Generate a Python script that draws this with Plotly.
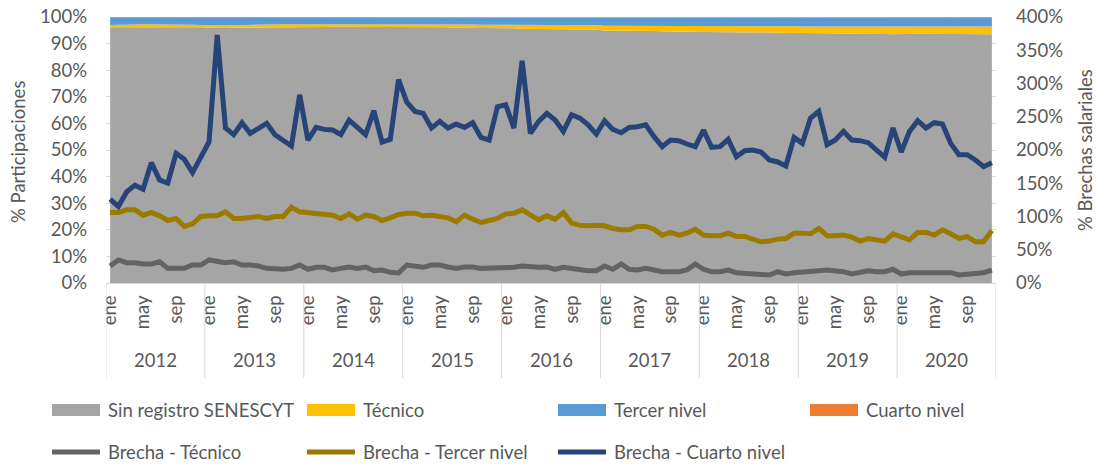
import plotly.graph_objects as go

# ---- Datos -------------------------------------------------------------
meses = ["ene", "feb", "mar", "abr", "may", "jun", "jul", "ago", "sep", "oct", "nov", "dic"]
anios = [2012, 2013, 2014, 2015, 2016, 2017, 2018, 2019, 2020]

# Participaciones (%), mensuales 2012-2020
sin_registro = [
    96.1, 96.1, 96.1, 96.2, 96.3, 96.3, 96.3, 96.2, 96.2, 96.2, 96.1, 96.1,
    96.0, 95.9, 95.9, 96.0, 96.0, 96.1, 96.1, 96.2, 96.1, 96.2, 96.2, 96.2,
    96.2, 96.2, 96.2, 96.3, 96.3, 96.3, 96.3, 96.2, 96.2, 96.1, 96.1, 96.1,
    96.1, 96.1, 96.2, 96.1, 96.1, 96.1, 96.0, 96.0, 96.0, 95.9, 95.9, 95.8,
    95.8, 95.8, 95.6, 95.6, 95.6, 95.5, 95.4, 95.4, 95.3, 95.3, 95.2, 95.2,
    94.9, 94.9, 94.8, 94.8, 94.8, 94.7, 94.7, 94.6, 94.5, 94.5, 94.5, 94.4,
    94.4, 94.4, 94.3, 94.3, 94.3, 94.3, 94.2, 94.2, 94.2, 94.1, 94.1, 94.0,
    93.9, 93.9, 93.9, 93.9, 93.8, 93.8, 93.8, 93.8, 93.8, 93.7, 93.6, 93.5,
    93.6, 93.7, 93.7, 93.7, 93.6, 93.6, 93.6, 93.6, 93.5, 93.5, 93.5, 93.5,
]
tecnico = [
    0.9, 0.9, 1.0, 1.0, 1.0, 1.0, 1.0, 1.1, 1.1, 1.0, 1.0, 0.9,
    0.9, 0.9, 0.9, 0.9, 1.0, 1.0, 1.0, 1.0, 1.1, 1.1, 1.1, 1.1,
    1.1, 1.1, 1.1, 1.1, 1.1, 1.1, 1.1, 1.2, 1.2, 1.2, 1.2, 1.2,
    1.2, 1.2, 1.1, 1.1, 1.1, 1.1, 1.2, 1.2, 1.2, 1.2, 1.2, 1.3,
    1.3, 1.3, 1.4, 1.4, 1.4, 1.5, 1.5, 1.5, 1.6, 1.6, 1.7, 1.7,
    1.8, 1.8, 1.9, 1.9, 1.9, 2.0, 2.0, 2.0, 2.1, 2.1, 2.1, 2.2,
    2.2, 2.2, 2.3, 2.3, 2.3, 2.3, 2.4, 2.4, 2.4, 2.4, 2.4, 2.5,
    2.5, 2.5, 2.5, 2.5, 2.6, 2.6, 2.6, 2.6, 2.6, 2.6, 2.6, 2.7,
    2.7, 2.7, 2.7, 2.7, 2.8, 2.8, 2.8, 2.8, 2.9, 2.9, 2.9, 2.9,
]
tercer_nivel = [
    2.9, 2.9, 2.8, 2.7, 2.6, 2.6, 2.6, 2.6, 2.6, 2.7, 2.8, 2.9,
    3.0, 3.1, 3.1, 3.0, 2.9, 2.8, 2.8, 2.7, 2.7, 2.6, 2.6, 2.6,
    2.6, 2.6, 2.6, 2.5, 2.5, 2.5, 2.5, 2.5, 2.5, 2.6, 2.6, 2.6,
    2.6, 2.6, 2.6, 2.7, 2.7, 2.7, 2.7, 2.7, 2.7, 2.8, 2.8, 2.8,
    2.8, 2.8, 2.9, 2.9, 2.9, 2.9, 3.0, 3.0, 3.0, 3.0, 3.0, 3.0,
    3.15, 3.15, 3.15, 3.15, 3.15, 3.15, 3.15, 3.25, 3.25, 3.25, 3.25, 3.25,
    3.25, 3.25, 3.25, 3.25, 3.25, 3.25, 3.25, 3.25, 3.25, 3.35, 3.35, 3.35,
    3.4, 3.4, 3.4, 3.4, 3.4, 3.4, 3.4, 3.4, 3.4, 3.45, 3.5, 3.45,
    3.35, 3.3, 3.35, 3.35, 3.35, 3.35, 3.35, 3.35, 3.35, 3.35, 3.35, 3.35,
]
cuarto_nivel = [
    0.1, 0.1, 0.1, 0.1, 0.1, 0.1, 0.1, 0.1, 0.1, 0.1, 0.1, 0.1,
    0.1, 0.1, 0.1, 0.1, 0.1, 0.1, 0.1, 0.1, 0.1, 0.1, 0.1, 0.1,
    0.1, 0.1, 0.1, 0.1, 0.1, 0.1, 0.1, 0.1, 0.1, 0.1, 0.1, 0.1,
    0.1, 0.1, 0.1, 0.1, 0.1, 0.1, 0.1, 0.1, 0.1, 0.1, 0.1, 0.1,
    0.1, 0.1, 0.1, 0.1, 0.1, 0.1, 0.1, 0.1, 0.1, 0.1, 0.1, 0.1,
    0.15, 0.15, 0.15, 0.15, 0.15, 0.15, 0.15, 0.15, 0.15, 0.15, 0.15, 0.15,
    0.15, 0.15, 0.15, 0.15, 0.15, 0.15, 0.15, 0.15, 0.15, 0.15, 0.15, 0.15,
    0.2, 0.2, 0.2, 0.2, 0.2, 0.2, 0.2, 0.2, 0.2, 0.25, 0.3, 0.35,
    0.3, 0.3, 0.25, 0.25, 0.25, 0.25, 0.25, 0.25, 0.25, 0.25, 0.25, 0.25,
]

# Brechas salariales (%), mensuales 2012-2020
brecha_tecnico = [
    25.6, 34.6, 30.5, 30.5, 28.6, 28.6, 32.0, 22.0, 22.0, 22.0, 27.0, 27.0,
    34.6, 32.0, 30.5, 32.0, 27.0, 27.0, 25.6, 22.0, 20.6, 20.6, 22.0, 27.0,
    20.6, 23.6, 23.6, 19.5, 22.0, 24.0, 22.0, 24.0, 18.5, 19.5, 16.0, 15.0,
    27.0, 25.6, 23.6, 27.0, 27.0, 24.0, 22.0, 24.0, 24.0, 22.0, 22.0, 22.0,
    23.6, 23.6, 25.6, 24.0, 23.6, 24.0, 20.6, 23.6, 22.0, 19.5, 18.5, 18.5,
    25.6, 20.6, 28.6, 20.6, 19.5, 22.0, 19.5, 17.0, 17.0, 17.0, 19.5, 28.6,
    20.6, 17.0, 17.0, 19.5, 15.5, 14.5, 13.5, 12.0, 12.0, 17.0, 13.5, 15.5,
    17.0, 17.0, 18.5, 19.5, 18.5, 17.0, 13.5, 15.5, 18.5, 17.0, 17.0, 20.6,
    13.5, 15.5, 15.5, 17.0, 15.5, 17.0, 15.5, 12.0, 13.5, 14.5, 15.5, 19.5,
]
brecha_tercer = [
    106, 106, 110, 110, 102, 106, 101, 94, 97, 85, 89, 100,
    101, 101, 107, 97, 97, 98, 100, 97, 100, 100, 114, 107,
    106, 104, 104, 102, 97, 104, 96, 102, 100, 94, 98, 103,
    105, 105, 101, 102, 100, 98, 92, 102, 96, 91, 94, 97,
    104, 105, 110, 102, 95, 101, 96, 106, 90, 87, 86, 87,
    86, 82, 80, 80, 85, 85, 81, 72, 76, 72, 75, 81,
    72, 71, 71, 75, 70, 70, 66, 62, 63, 66, 67, 75,
    75, 74, 82, 71, 71, 72, 69, 63, 67, 65, 63, 74,
    69, 65, 76, 76, 72, 80, 74, 67, 70, 62, 62, 79,
]
brecha_cuarto = [
    126, 115, 137, 147, 141, 181, 155, 150, 195, 186, 166, 190,
    212, 373, 233, 223, 241, 225, 233, 240, 223, 215, 206, 283,
    215, 234, 231, 230, 223, 245, 233, 223, 259, 212, 216, 306,
    272, 258, 255, 233, 243, 233, 239, 234, 241, 219, 215, 265,
    268, 233, 334, 225, 243, 255, 245, 228, 253, 248, 238, 224,
    244, 231, 226, 234, 235, 238, 220, 205, 215, 214, 209, 205,
    230, 204, 205, 216, 190, 199, 200, 197, 185, 182, 176, 219,
    210, 248, 258, 208, 215, 228, 215, 214, 211, 200, 189, 233,
    197, 228, 244, 233, 241, 239, 210, 193, 193, 185, 175, 181,
]

# ---- Estilo ------------------------------------------------------------
FONT = "Lato"
TXT = "#595959"
FS = 18.5
W, H = 1098, 465
PL, PR, PT, PB = 106, 996, 17, 283  # área de trazado en píxeles

x = list(range(len(sin_registro)))


def px(xp):
    return (xp - PL) / (PR - PL)


def py(yp):
    return (PB - yp) / (PB - PT)


fig = go.Figure()

areas = [
    ("Sin registro SENESCYT", sin_registro, "#A5A5A5"),
    ("Técnico", tecnico, "#FFC000"),
    ("Tercer nivel", tercer_nivel, "#5B9BD5"),
    ("Cuarto nivel", cuarto_nivel, "#ED7D31"),
]
for nombre, vals, col in areas:
    fig.add_trace(go.Scatter(
        x=x, y=vals, name=nombre, mode="lines",
        stackgroup="part", groupnorm="percent",
        line=dict(width=0, color=col), fillcolor=col,
        yaxis="y", showlegend=False,
    ))

lineas = [
    ("Brecha - Técnico", brecha_tecnico, "#636363"),
    ("Brecha - Tercer nivel", brecha_tercer, "#9C7A00"),
    ("Brecha - Cuarto nivel", brecha_cuarto, "#264478"),
]
for nombre, vals, col in lineas:
    fig.add_trace(go.Scatter(
        x=x, y=vals, name=nombre, mode="lines",
        line=dict(width=5, color=col),
        yaxis="y2", showlegend=False,
    ))

tick_idx = [i for i in x if i % 12 in (0, 4, 8)]
tick_txt = [meses[i % 12] for i in tick_idx]

fig.update_layout(
    width=W, height=H,
    margin=dict(l=PL, r=W - PR, t=PT, b=H - PB, autoexpand=False),
    paper_bgcolor="white", plot_bgcolor="white",
    font=dict(family=FONT, color=TXT, size=FS),
    xaxis=dict(
        range=[-0.5, len(x) - 0.5], tickvals=tick_idx, ticktext=tick_txt,
        tickangle=-90, showgrid=False, zeroline=False, showline=True,
        linecolor="#D9D9D9", linewidth=1, ticks="",
        tickfont=dict(size=FS, color=TXT), ticklabelstandoff=4,
    ),
    yaxis=dict(
        range=[0, 100], dtick=10, ticksuffix="%", showgrid=True,
        gridcolor="#D9D9D9", gridwidth=1, zeroline=False, showline=False,
        ticks="", tickfont=dict(size=FS, color=TXT), ticklabelstandoff=18,
    ),
    yaxis2=dict(
        range=[0, 400], dtick=50, ticksuffix="%", overlaying="y", side="right",
        showgrid=False, zeroline=False, showline=False, ticks="",
        tickfont=dict(size=FS, color=TXT), ticklabelstandoff=19,
    ),
    showlegend=False,
)

shapes = []
annotations = []

# separadores y etiquetas de años
for k, a in enumerate(anios):
    annotations.append(dict(
        x=k * 12 + 5.5, y=py(360), xref="x", yref="paper", text=str(a),
        showarrow=False, font=dict(size=FS, color=TXT),
        xanchor="center", yanchor="middle",
    ))
for k in range(len(anios) + 1):
    shapes.append(dict(
        type="line", xref="x", yref="paper", x0=k * 12 - 0.5, x1=k * 12 - 0.5,
        y0=0, y1=py(378), line=dict(color="#D9D9D9", width=1),
    ))

# títulos de ejes
annotations.append(dict(
    x=px(18), y=py(152), xref="paper", yref="paper", text="% Participaciones",
    textangle=-90, showarrow=False, font=dict(size=FS, color=TXT),
    xanchor="center", yanchor="middle",
))
annotations.append(dict(
    x=px(1085), y=py(150), xref="paper", yref="paper", text="% Brechas salariales",
    textangle=-90, showarrow=False, font=dict(size=FS, color=TXT),
    xanchor="center", yanchor="middle",
))

# leyenda
col_x = [52, 307, 558, 810]
fila1, fila2 = 410, 452
for (nombre, _, col), cx in zip(areas, col_x):
    shapes.append(dict(
        type="rect", xref="paper", yref="paper",
        x0=px(cx), x1=px(cx + 48), y0=py(fila1 + 6), y1=py(fila1 - 6),
        fillcolor=col, line=dict(width=0),
    ))
    annotations.append(dict(
        x=px(cx + 54), y=py(fila1), xref="paper", yref="paper", text=nombre,
        showarrow=False, xanchor="left", yanchor="middle",
        font=dict(size=FS, color=TXT),
    ))
for (nombre, _, col), cx in zip(lineas, col_x):
    shapes.append(dict(
        type="line", xref="paper", yref="paper",
        x0=px(cx), x1=px(cx + 48), y0=py(fila2), y1=py(fila2),
        line=dict(color=col, width=5),
    ))
    annotations.append(dict(
        x=px(cx + 54), y=py(fila2), xref="paper", yref="paper", text=nombre,
        showarrow=False, xanchor="left", yanchor="middle",
        font=dict(size=FS, color=TXT),
    ))

fig.update_layout(shapes=shapes, annotations=annotations)

fig.write_html("out.html")
